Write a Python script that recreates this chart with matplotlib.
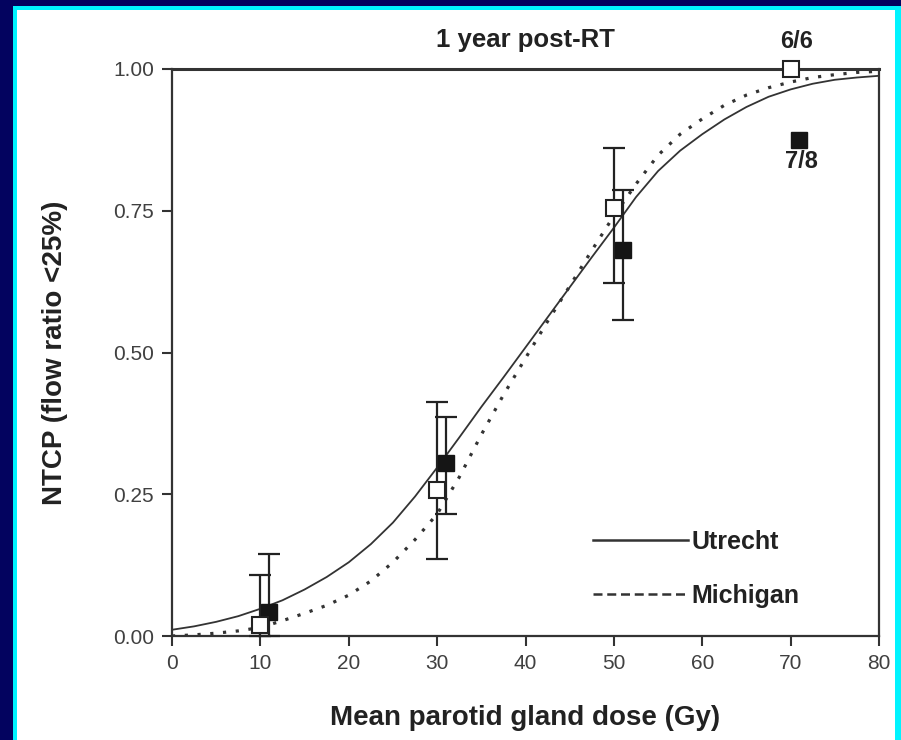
import matplotlib
matplotlib.use("Agg")
import matplotlib.pyplot as plt
from matplotlib.patches import Rectangle
from matplotlib.lines import Line2D

plt.rcParams['font.family'] = ['Liberation Sans', 'DejaVu Sans']

# Model curves (dose in Gy -> NTCP)
dose_grid = [0, 2.5, 5, 7.5, 10, 12.5, 15, 17.5, 20, 22.5, 25, 27.5, 30, 32.5, 35, 37.5, 40,
             42.5, 45, 47.5, 50, 52.5, 55, 57.5, 60, 62.5, 65, 67.5, 70, 72.5, 75, 77.5, 80]
utrecht = [0.011, 0.017, 0.025, 0.035, 0.048, 0.063, 0.082, 0.104, 0.13, 0.162, 0.2, 0.246,
           0.297, 0.350, 0.404, 0.456, 0.509, 0.562, 0.615, 0.668, 0.72, 0.774, 0.82,
           0.856, 0.885, 0.911, 0.933, 0.951, 0.964, 0.974, 0.981, 0.985, 0.988]
michigan = [0.0, 0.002, 0.005, 0.009, 0.015, 0.027, 0.04, 0.054, 0.072, 0.097, 0.13, 0.17,
            0.215, 0.28, 0.355, 0.425, 0.49, 0.555, 0.617, 0.68, 0.741, 0.797, 0.848,
            0.885, 0.912, 0.936, 0.954, 0.967, 0.977, 0.985, 0.99, 0.994, 0.996]

# Observed complication rates
open_dose = [10, 30, 50, 70]
open_ntcp = [0.02, 0.258, 0.755, 1.0]
open_lo = [0.0, 0.136, 0.622, None]
open_hi = [0.108, 0.412, 0.86, None]

filled_dose = [11, 31, 51, 71]
filled_ntcp = [0.043, 0.305, 0.68, 0.875]
filled_lo = [0.0, 0.215, 0.558, None]
filled_hi = [0.145, 0.387, 0.787, None]

x_ticks = [0, 10, 20, 30, 40, 50, 60, 70, 80]
y_ticks = [0.0, 0.25, 0.5, 0.75, 1.0]
y_tick_labels = ['0.00', '0.25', '0.50', '0.75', '1.00']

W, H = 901, 740
fig = plt.figure(figsize=(W / 100, H / 100), dpi=100, facecolor='#03035f')

# framed white panel
fig.patches.append(Rectangle((13 / W, -0.1), 1.2, 1.1 - 6 / H, transform=fig.transFigure,
                             facecolor='#00f4ff', edgecolor='none', zorder=-10))
fig.patches.append(Rectangle((17 / W, -0.1), (895 - 17) / W, 1.1 - 10 / H, transform=fig.transFigure,
                             facecolor='white', edgecolor='none', zorder=-9))

ax = fig.add_axes([172 / W, 1 - 636 / H, (879 - 172) / W, (636 - 69) / H])
ax.set_zorder(1)
ax.set_facecolor('none')
ax.set_xlim(0, 80)
ax.set_ylim(0, 1.0)

ink = '#222222'
ax.plot(dose_grid, utrecht, color='#333333', lw=1.3, zorder=3)
ax.plot(dose_grid, michigan, color='#333333', lw=2.3, linestyle=(0, (1.0, 3.0)), zorder=3)


def draw_errors(xs, ys, los, his):
    for x, y, lo, hi in zip(xs, ys, los, his):
        if lo is None:
            continue
        ax.errorbar([x], [y], yerr=[[y - lo], [hi - y]], fmt='none', ecolor=ink,
                    elinewidth=1.6, capsize=8, capthick=1.6, zorder=4, clip_on=False)


draw_errors(open_dose, open_ntcp, open_lo, open_hi)
draw_errors(filled_dose, filled_ntcp, filled_lo, filled_hi)

ax.plot(filled_dose, filled_ntcp, linestyle='none', marker='s', markersize=11.5,
        markerfacecolor='#151515', markeredgecolor='#151515', zorder=5, clip_on=False)
ax.plot(open_dose, open_ntcp, linestyle='none', marker='s', markersize=12,
        markerfacecolor='white', markeredgecolor=ink, markeredgewidth=1.5, zorder=6, clip_on=False)

ax.text(open_dose[3] + 0.7, open_ntcp[3] + 0.048, '6/6', ha='center', va='center',
        fontsize=17, fontweight='bold', color=ink)
ax.text(filled_dose[3] + 0.2, filled_ntcp[3] - 0.038, '7/8', ha='center', va='center',
        fontsize=17, fontweight='bold', color=ink)

for s in ax.spines.values():
    s.set_color('#333333')
    s.set_linewidth(1.6)
ax.spines['top'].set_linewidth(2.2)

ax.set_xticks(x_ticks)
ax.set_yticks(y_ticks)
ax.set_yticklabels(y_tick_labels)
ax.tick_params(direction='out', length=7, width=1.5, color='#333333',
               labelsize=15, labelcolor='#404040', pad=6)

ax.set_xlabel('Mean parotid gland dose (Gy)', fontsize=20, fontweight='bold', color=ink)
ax.xaxis.set_label_coords(0.5, (636 - 705) / 567)
ax.set_ylabel('NTCP (flow ratio <25%)', fontsize=20, fontweight='bold', color=ink)
ax.yaxis.set_label_coords((68 - 172) / 707, 0.5)
fig.text(525 / W, 1 - 40 / H, '1 year post-RT', ha='center', va='center',
         fontsize=18.5, fontweight='bold', color=ink)

handles = [Line2D([], [], color='#333333', lw=1.8),
           Line2D([], [], color='#333333', lw=1.8, linestyle=(0, (3.6, 1.9)))]
leg = ax.legend(handles, ['Utrecht', 'Michigan'], loc='upper left',
                bbox_to_anchor=((593 - 172) / 707, (636 - 530) / 567),
                frameon=False, borderpad=0, borderaxespad=0, handlelength=3.8,
                handletextpad=0.15, labelspacing=1.2,
                prop={'size': 18, 'weight': 'bold'})
for t in leg.get_texts():
    t.set_color(ink)

fig.savefig('out.png', dpi=100, facecolor=fig.get_facecolor())
